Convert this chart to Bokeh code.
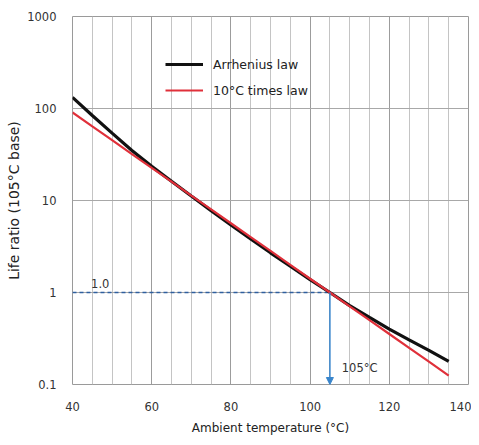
from bokeh.plotting import figure
from bokeh.models import (FixedTicker, Legend, LegendItem, Arrow, NormalHead,
                          ColumnDataSource, Range1d)
from bokeh.embed import file_html
from bokeh.resources import INLINE
from bokeh.core.properties import value

# ---- data ----
temperature = [40, 45, 50, 55, 60, 65, 70, 75, 80, 85, 90, 95, 100, 105, 110, 115, 120, 125, 130, 135]
arrhenius = [132, 84, 54, 35, 23.5, 16.2, 11.2, 7.76, 5.43, 3.83, 2.7, 1.93, 1.38, 1.0, 0.72, 0.535, 0.40, 0.305, 0.235, 0.178]
ten_deg = [90.5, 64, 45.3, 32, 22.6, 16, 11.3, 8, 5.66, 4, 2.83, 2, 1.41, 1.0, 0.707, 0.5, 0.354, 0.25, 0.177, 0.125]
series_names = ["Arrhenius law", "10\u00b0C times law"]

ref_temp = 105
ref_ratio = 1.0
x_start = 40
y_floor = 0.1
ref_label = "1.0"
temp_label = "105\u00b0C"

x_ticks = [40, 60, 80, 100, 120, 140]
x_minor = [45, 50, 55, 65, 70, 75, 85, 90, 95, 105, 110, 115, 125, 130, 135]
y_ticks = [0.1, 1, 10, 100, 1000]
y_tick_labels = ["0.1", "1", "10", "100", "1000"]

FONT = "DejaVu Sans"

p = figure(width=471, height=437, output_backend="svg", toolbar_location=None,
           y_axis_type="log", x_range=Range1d(40, 140), y_range=Range1d(0.1, 1000),
           min_border_left=72, min_border_right=3, min_border_top=16, min_border_bottom=49)
p.background_fill_color = "white"
p.border_fill_color = "white"
p.outline_line_color = "#9a9a9a"
p.outline_line_width = 1

# axes
p.xaxis.ticker = FixedTicker(ticks=x_ticks, minor_ticks=x_minor)
p.yaxis.ticker = FixedTicker(ticks=y_ticks)
p.yaxis.major_label_overrides = {t: l for t, l in zip(y_ticks, y_tick_labels)}
for ax in (p.xaxis, p.yaxis):
    ax.axis_line_color = None
    ax.major_tick_line_color = None
    ax.minor_tick_line_color = None
    ax.major_label_text_font = FONT
    ax.major_label_text_font_size = "11.5px"
    ax.major_label_text_color = "#333333"
    ax.axis_label_text_font = FONT
    ax.axis_label_text_font_style = "normal"
    ax.axis_label_text_color = "#222222"
p.xaxis.axis_label = "Ambient temperature (\u00b0C)"
p.yaxis.axis_label = "Life ratio (105\u00b0C base)"
p.xaxis.axis_label_text_font_size = "12px"
p.yaxis.axis_label_text_font_size = "14px"
p.xaxis.major_label_standoff = 11
p.yaxis.major_label_standoff = 10
p.xaxis.axis_label_standoff = 7
p.yaxis.axis_label_standoff = 2

# grid
p.xgrid.grid_line_color = "#9c9c9c"
p.xgrid.grid_line_width = 1
p.xgrid.minor_grid_line_color = "#c4c4c4"
p.xgrid.minor_grid_line_width = 1
p.ygrid.grid_line_color = "#a8a8a8"
p.ygrid.grid_line_width = 1

# reference lines
p.line(x=[x_start, ref_temp], y=[ref_ratio, ref_ratio], line_color="#2f5f9f",
       line_width=1.3, line_dash="4 3")
p.add_layout(Arrow(x_start=ref_temp, y_start=ref_ratio, x_end=ref_temp, y_end=y_floor,
                   line_color="#3a86cc", line_width=1.5,
                   end=NormalHead(size=7, fill_color="#3a86cc", line_color="#3a86cc")))
p.text(x=[47], y=[ref_ratio], text=[ref_label], text_font=value(FONT),
       text_font_size="11.5px", text_color="#333333", text_baseline="bottom",
       text_align="center", y_offset=-5)
p.text(x=[108], y=[0.15], text=[temp_label], text_font=value(FONT),
       text_font_size="11.5px", text_color="#333333", text_baseline="middle",
       text_align="left")

# series
src = ColumnDataSource(dict(t=temperature, a=arrhenius, r=ten_deg))
r_black = p.line("t", "a", source=src, line_color="#111111", line_width=3.2)
r_red = p.line("t", "r", source=src, line_color="#e0303a", line_width=2.2)

legend = Legend(items=[LegendItem(label=series_names[0], renderers=[r_black]),
                       LegendItem(label=series_names[1], renderers=[r_red])],
                location=(93, 284), padding=0, margin=0, spacing=6,
                glyph_width=38, glyph_height=20, label_standoff=10,
                label_text_font=FONT, label_text_font_size="12.5px",
                label_text_color="#222222",
                border_line_color=None, background_fill_alpha=0)
p.add_layout(legend, "center")

open("out.html", "w").write(file_html(p, INLINE))
